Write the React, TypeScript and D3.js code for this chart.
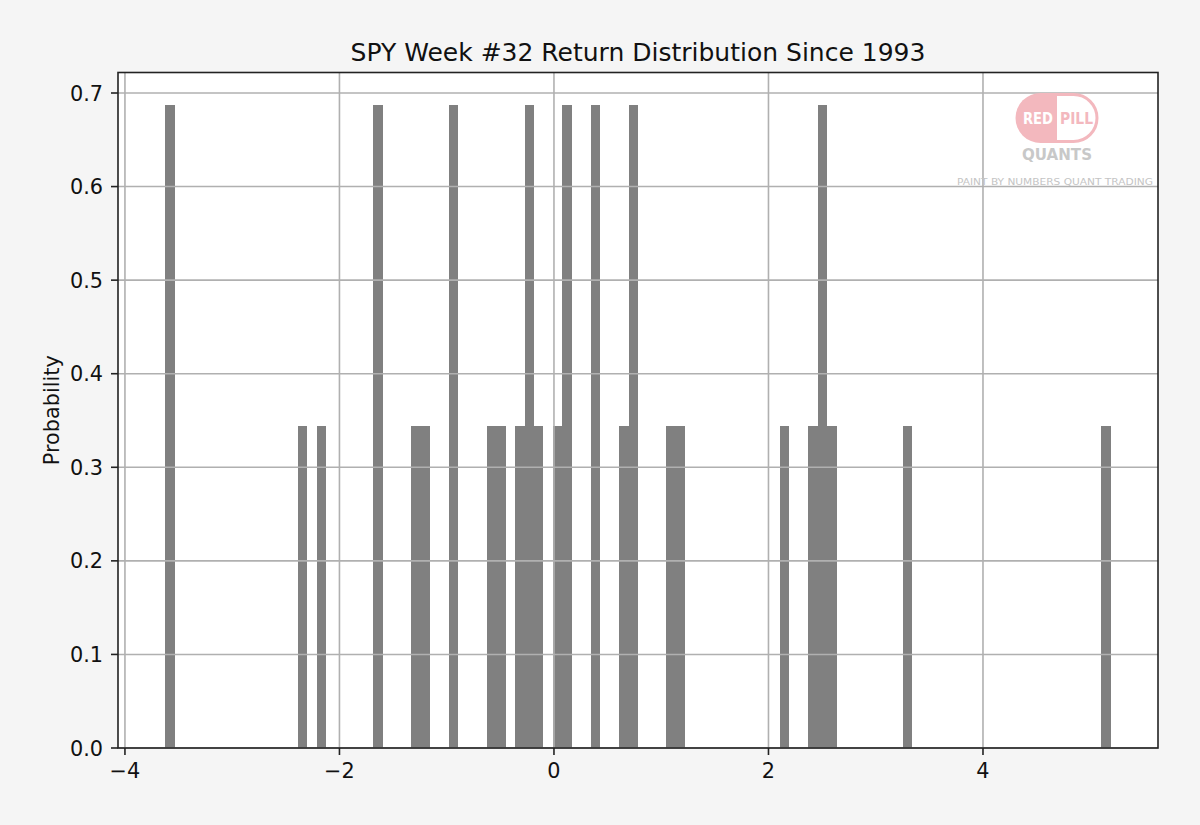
import { useEffect, useRef } from "react";
import * as d3 from "d3";

// Week #32 weekly returns (%), one entry per year
const weeklyReturns: number[] = [
  -3.624, -3.58, -2.346, -2.17, -1.66, -1.62, -1.288, -1.2, -0.95, -0.92,
  -0.583, -0.495, -0.318, -0.25, -0.21, -0.142, 0.034, 0.1, 0.14, 0.37, 0.4,
  0.651, 0.72, 0.76, 1.092, 1.18, 2.15, 2.414, 2.48, 2.52, 2.591, 3.296, 5.191,
];
const binCount = 100;
const xTicks = [-4, -2, 0, 2, 4];
const yTicks = [0, 0.1, 0.2, 0.3, 0.4, 0.5, 0.6, 0.7];
const title = "SPY Week #32 Return Distribution Since 1993";
const yLabel = "Probability";

const W = 1200;
const H = 825;

export default function App() {
  const svgRef = useRef<SVGSVGElement>(null);

  useEffect(() => {
    document.body.style.margin = "0";
    if (!svgRef.current) return;

    const margin = { top: 72.5, right: 42, bottom: 77, left: 118 };
    const width = W - margin.left - margin.right;
    const height = H - margin.top - margin.bottom;
    const font = "DejaVu Sans, sans-serif";

    const svg = d3.select(svgRef.current);
    svg.selectAll("*").remove();

    svg.append("rect").attr("width", W).attr("height", H).attr("fill", "#f5f5f5");

    const [lo, hi] = d3.extent(weeklyReturns) as [number, number];
    const step = (hi - lo) / binCount;
    const thresholds = d3.range(1, binCount).map((i) => lo + i * step);
    const bins = d3.bin().domain([lo, hi]).thresholds(thresholds)(weeklyReturns);
    const n = weeklyReturns.length;
    const density = (b: d3.Bin<number, number>) => b.length / (n * step);
    const maxD = d3.max(bins, density) as number;

    // matplotlib-style 5% margins
    const pad = (hi - lo) * 0.05;
    const x = d3.scaleLinear().domain([lo - pad, hi + pad]).range([0, width]);
    const y = d3.scaleLinear().domain([0, maxD * 1.05]).range([height, 0]);

    const g = svg
      .append("g")
      .attr("transform", `translate(${margin.left},${margin.top})`);

    g.append("rect").attr("width", width).attr("height", height).attr("fill", "#fff");

    // Bars
    g.selectAll("rect.bar")
      .data(bins.filter((b) => b.length > 0))
      .join("rect")
      .attr("class", "bar")
      .attr("x", (d) => x(d.x0 as number))
      .attr("width", (d) => x(d.x1 as number) - x(d.x0 as number))
      .attr("y", (d) => y(density(d)))
      .attr("height", (d) => height - y(density(d)))
      .attr("fill", "#808080")
      .attr("shape-rendering", "crispEdges");

    // Grid (drawn over the bars, like matplotlib)
    const grid = g.append("g").attr("stroke", "#b0b0b0").attr("stroke-width", 1.6);
    xTicks.forEach((t) =>
      grid.append("line").attr("x1", x(t)).attr("x2", x(t)).attr("y1", 0).attr("y2", height)
    );
    yTicks.forEach((t) =>
      grid.append("line").attr("x1", 0).attr("x2", width).attr("y1", y(t)).attr("y2", y(t))
    );

    // Watermark
    const wm = g.append("g").attr("transform", `translate(${1057 - margin.left},${118 - margin.top})`);
    const pink = "#f3b8be";
    wm.append("path")
      .attr("d", "M0,-25 H-16.5 A25,25 0 0 0 -16.5,25 H0 Z")
      .attr("fill", pink);
    wm.append("path")
      .attr("d", "M0,-23.5 H16.5 A23.5,23.5 0 0 1 16.5,23.5 H0")
      .attr("fill", "#fff")
      .attr("stroke", pink)
      .attr("stroke-width", 3);
    wm.append("text")
      .attr("x", -34)
      .attr("y", 6)
      .attr("textLength", 30)
      .attr("lengthAdjust", "spacingAndGlyphs")
      .style("font-family", font)
      .style("font-size", "16px")
      .style("font-weight", "bold")
      .attr("fill", "#fff")
      .text("RED");
    wm.append("text")
      .attr("x", 3)
      .attr("y", 6)
      .attr("textLength", 33)
      .attr("lengthAdjust", "spacingAndGlyphs")
      .style("font-family", font)
      .style("font-size", "16px")
      .style("font-weight", "bold")
      .attr("fill", pink)
      .text("PILL");
    wm.append("text")
      .attr("x", -35)
      .attr("y", 42)
      .attr("textLength", 70)
      .attr("lengthAdjust", "spacingAndGlyphs")
      .style("font-family", font)
      .style("font-size", "16px")
      .style("font-weight", "bold")
      .attr("fill", "#c8c8c8")
      .text("QUANTS");
    wm.append("text")
      .attr("x", -100)
      .attr("y", 67)
      .attr("textLength", 196)
      .attr("lengthAdjust", "spacingAndGlyphs")
      .style("font-family", font)
      .style("font-size", "9px")
      .attr("fill", "#c4c4c4")
      .text("PAINT BY NUMBERS QUANT TRADING");

    // Spines
    g.append("rect")
      .attr("width", width)
      .attr("height", height)
      .attr("fill", "none")
      .attr("stroke", "#222")
      .attr("stroke-width", 1.6);

    // X ticks
    const xa = g.append("g").attr("transform", `translate(0,${height})`);
    xTicks.forEach((t) => {
      xa.append("line").attr("x1", x(t)).attr("x2", x(t)).attr("y1", 0).attr("y2", 7)
        .attr("stroke", "#222").attr("stroke-width", 1.6);
      xa.append("text")
        .attr("x", x(t))
        .attr("y", 30)
        .attr("text-anchor", "middle")
        .style("font-family", font)
        .style("font-size", "20.8px")
        .attr("fill", "#111")
        .text(t < 0 ? `\u2212${Math.abs(t)}` : `${t}`);
    });

    // Y ticks
    const ya = g.append("g");
    yTicks.forEach((t) => {
      ya.append("line").attr("x1", -7).attr("x2", 0).attr("y1", y(t)).attr("y2", y(t))
        .attr("stroke", "#222").attr("stroke-width", 1.6);
      ya.append("text")
        .attr("x", -15)
        .attr("y", y(t) + 7.5)
        .attr("text-anchor", "end")
        .style("font-family", font)
        .style("font-size", "20.8px")
        .attr("fill", "#111")
        .text(d3.format(".1f")(t));
    });

    // Labels
    svg.append("text")
      .attr("transform", `translate(59,${margin.top + height / 2}) rotate(-90)`)
      .attr("text-anchor", "middle")
      .style("font-family", font)
      .style("font-size", "20.8px")
      .attr("fill", "#111")
      .text(yLabel);

    svg.append("text")
      .attr("x", margin.left + width / 2)
      .attr("y", 61)
      .attr("text-anchor", "middle")
      .style("font-family", font)
      .style("font-size", "25px")
      .attr("fill", "#111")
      .text(title);
  }, []);

  return <svg ref={svgRef} width={W} height={H} style={{ display: "block" }} />;
}
